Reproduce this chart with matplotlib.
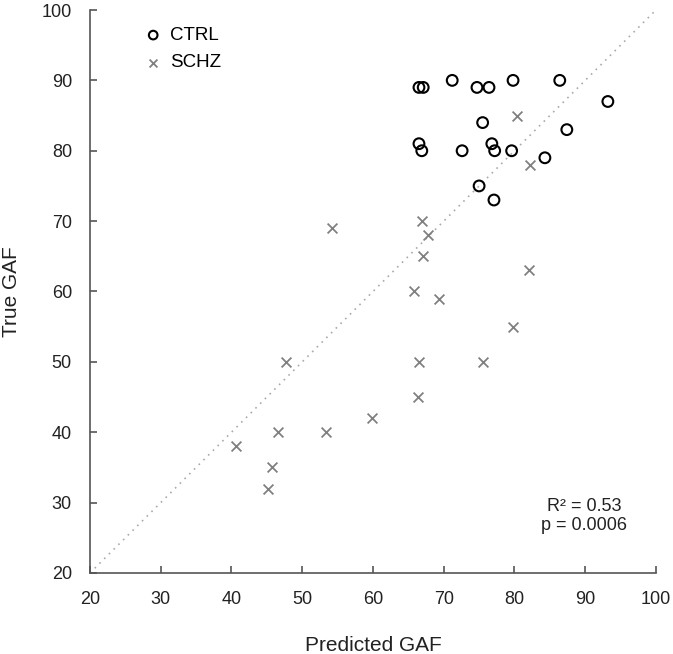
import matplotlib
matplotlib.use("Agg")
import matplotlib.pyplot as plt

plt.rcParams['font.family'] = ['Liberation Sans', 'DejaVu Sans']

ctrl_pred = [66.5, 67.1, 71.2, 74.7, 76.4, 79.8, 86.4, 93.2, 75.5, 87.4,
             66.5, 66.9, 72.6, 76.8, 77.2, 79.6, 84.3, 75.0, 77.1]
ctrl_true = [89, 89, 90, 89, 89, 90, 90, 87, 84, 83,
             81, 80, 80, 81, 80, 80, 79, 75, 73]

schz_pred = [80.3, 82.2, 54.2, 66.9, 67.8, 67.1, 82.0, 65.8, 69.3, 79.8,
             47.7, 66.5, 75.6, 66.4, 59.9, 46.6, 53.4, 40.7, 45.7, 45.2]
schz_true = [85, 78, 69, 70, 68, 65, 63, 60, 59, 55,
             50, 50, 50, 45, 42, 40, 40, 38, 35, 32]

ticks = [20, 30, 40, 50, 60, 70, 80, 90, 100]
r2_text = "R\u00b2 = 0.53\np = 0.0006"

fig = plt.figure(figsize=(6.73, 6.54), dpi=100)
ax = fig.add_axes([0.1337, 0.1239, 0.8410, 0.8608])

ax.plot([20, 100], [20, 100], linestyle=(0, (1, 3)), color='#aaaaaa', lw=1.2, zorder=1)
ax.scatter(ctrl_pred, ctrl_true, s=60, facecolors='none', edgecolors='black',
           linewidths=1.5, label='CTRL', zorder=3)
ax.scatter(schz_pred, schz_true, s=50, marker='x', color='#808080',
           linewidths=1.3, label='SCHZ', zorder=3)

ax.set_xlim(20, 100)
ax.set_ylim(20, 100)
ax.set_xticks(ticks)
ax.set_yticks(ticks)
for s in ['top', 'right']:
    ax.spines[s].set_visible(False)
for s in ['left', 'bottom']:
    ax.spines[s].set_color('#555555')
    ax.spines[s].set_linewidth(1.2)
ax.tick_params(direction='in', length=5, width=1.2, color='#555555',
               labelsize=13, labelcolor='#222222')
ax.tick_params(axis='x', pad=13)
ax.tick_params(axis='y', pad=13)

ax.set_xlabel('Predicted GAF', fontsize=15, labelpad=20, color='#222222')
ax.set_ylabel('True GAF', fontsize=15, labelpad=15, color='#222222')

leg = ax.legend(loc='upper left', bbox_to_anchor=(0.062, 1.0), frameon=False,
                fontsize=13.5, handletextpad=0.3, handlelength=1.2,
                labelspacing=0.55, scatterpoints=1, markerscale=0.8)

ax.text(89.8, 28.1, r2_text, ha='center', va='center', fontsize=13,
        color='#222222', linespacing=1.15)

fig.savefig('out.png', dpi=100)
